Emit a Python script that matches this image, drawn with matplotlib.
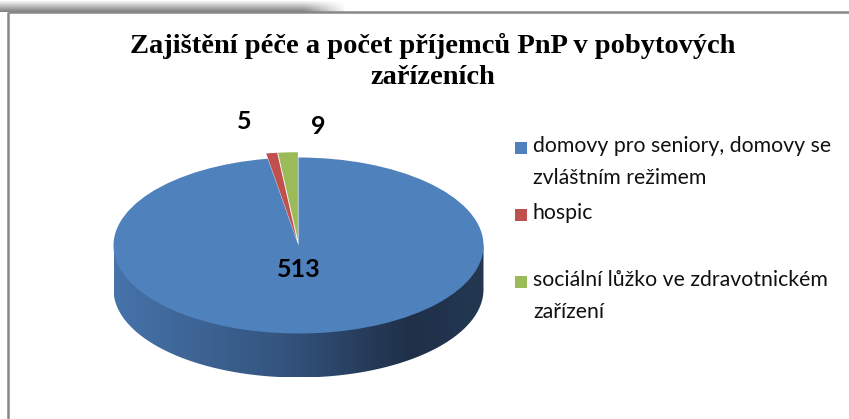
import matplotlib
matplotlib.use("Agg")
import matplotlib.pyplot as plt
import numpy as np
from matplotlib.patches import Rectangle, Polygon
from matplotlib.colors import LinearSegmentedColormap

# data
categories = ["domovy pro seniory, domovy se\nzvláštním režimem",
              "hospic",
              "sociální lůžko ve zdravotnickém\nzařízení"]
values = [513, 5, 9]
colors = ["#4f81bd", "#c0504d", "#9bbb59"]
title = "Zajištění péče a počet příjemců PnP v pobytových\nzařízeních"

W, H = 849, 419
fig = plt.figure(figsize=(W / 100, H / 100), dpi=100)

# background axes in pixel units (frame + shadow)
bg = fig.add_axes([0, 0, 1, 1])
bg.set_xlim(0, W)
bg.set_ylim(H, 0)
bg.axis("off")

# shadow band at top left
grad = np.linspace(0.96, 0.5, 20).reshape(-1, 1) * np.ones((1, 200))
fade = np.ones((20, 200))
fade[:, 175:] = np.linspace(1, 0, 25)
rgba = np.dstack([grad, grad, grad, fade])
bg.imshow(rgba, extent=(0, 347, 12, 1), aspect="auto", zorder=1)

# chart frame
bg.plot([8, 8], [12, H], color="#888888", lw=1.8, zorder=2, solid_capstyle="butt")
bg.plot([8, W], [12.5, 12.5], color="#888888", lw=1.8, zorder=2, solid_capstyle="butt")

# pie axes: 1 data unit = 185 px in x, 88 px in y
cx, cy, rx, ry = 298.5, 245.5, 185, 88
xl, yl = (-1.3, 1.3), (-1.8, 1.5)
left = cx + xl[0] * rx
top = cy - yl[1] * ry
aw = (xl[1] - xl[0]) * rx
ah = (yl[1] - yl[0]) * ry
ax = fig.add_axes([left / W, (H - top - ah) / H, aw / W, ah / H])

wedges, _ = ax.pie(values, colors=colors, startangle=90, counterclock=False,
                   explode=[0, 0.06, 0.06], radius=1,
                   wedgeprops=dict(linewidth=0))
ax.set_aspect("auto")
ax.axis("off")
for w in wedges:
    w.set_zorder(3)

# side of the 3D pie (front half of the blue slice)
depth = 0.5
t = np.linspace(np.pi, 2 * np.pi, 200)
side = np.vstack([[[-1, 0]], np.column_stack([np.cos(t), np.sin(t) - depth]), [[1, 0]]])
clip = Polygon(side, closed=True, facecolor="none", edgecolor="none")
ax.add_patch(clip)
side_cmap = LinearSegmentedColormap.from_list(
    "side", [(0, "#4673aa"), (0.45, "#34557f"), (0.8, "#1f2f48"), (1, "#243852")])
img = ax.imshow(np.linspace(0, 1, 256).reshape(1, -1), cmap=side_cmap,
                extent=(-1, 1, -1 - depth, 0), aspect="auto", zorder=2)
img.set_clip_path(clip)
ax.set_xlim(*xl)
ax.set_ylim(*yl)

# data labels
label_offsets = [(0, -24), (-27, 32), (30, 26)]
for w, v, off in zip(wedges, values, label_offsets):
    if v == max(values):
        xy = w.center
    else:
        th = np.deg2rad((w.theta1 + w.theta2) / 2)
        xy = (w.center[0] + np.cos(th), w.center[1] + np.sin(th))
    ax.annotate(str(v), xy=xy, xytext=off, textcoords="offset pixels",
                ha="center", va="center", fontsize=18, fontweight="bold",
                family="Lato", color="black", zorder=5)

# title
fig.text(433 / W, 1 - 33 / H, title, ha="center", va="top", family="Liberation Serif",
         fontweight="bold", fontsize=20.5, linespacing=1.32)

# legend (manual, Excel-like spacing)
legend_y = [148, 215, 282]
for lab, col, y in zip(categories, colors, legend_y):
    bg.add_patch(Rectangle((515, y - 6), 12, 12, facecolor=col, edgecolor="none", zorder=3))
    bg.text(533, y - 12, lab, ha="left", va="top", family="Lato", fontsize=15.3,
            color="#111111", linespacing=1.72, zorder=3)

fig.savefig("out.png", dpi=100)
